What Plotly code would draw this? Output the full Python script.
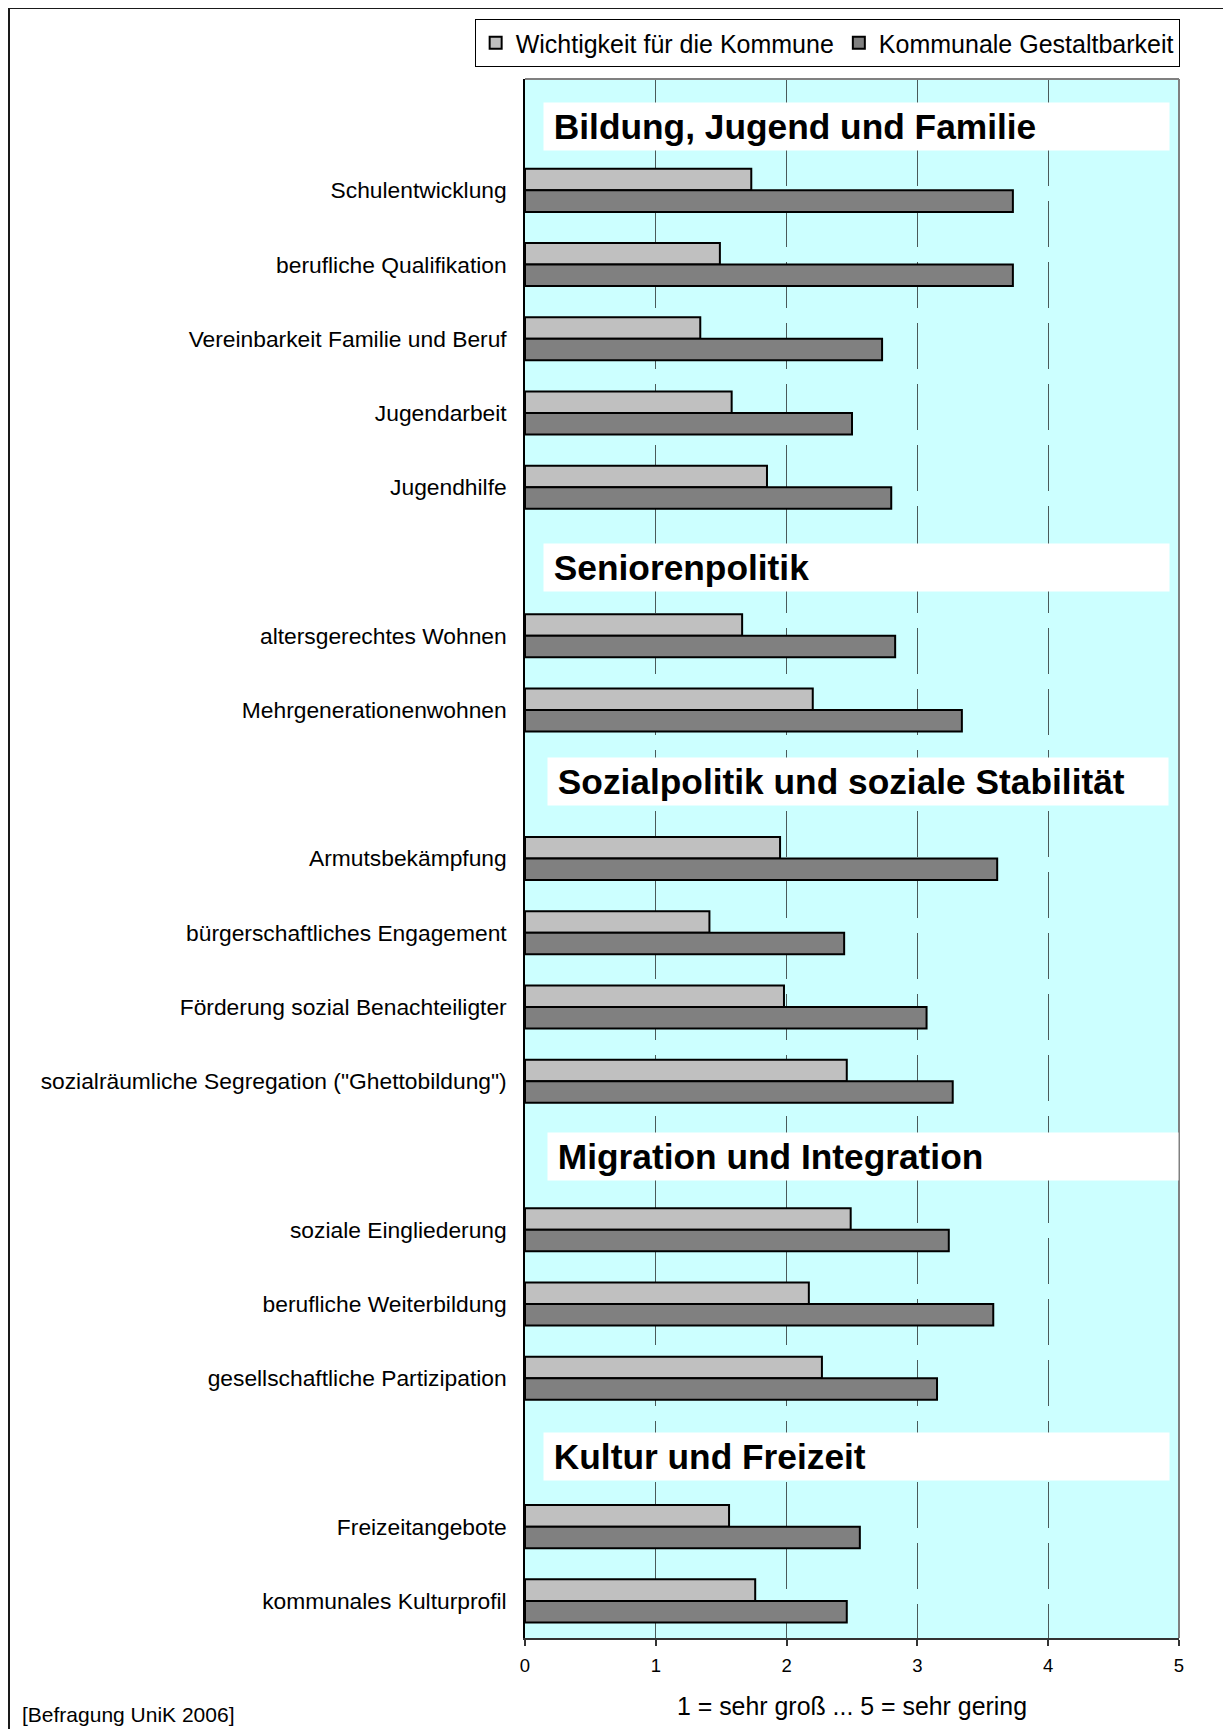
import plotly.graph_objects as go

# ---------------- data ----------------
sections = [
    "Bildung, Jugend und Familie",
    "Seniorenpolitik",
    "Sozialpolitik und soziale Stabilität",
    "Migration und Integration",
    "Kultur und Freizeit",
]
section_sizes = [5, 2, 4, 3, 2]

categories = [
    "Schulentwicklung",
    "berufliche Qualifikation",
    "Vereinbarkeit Familie und Beruf",
    "Jugendarbeit",
    "Jugendhilfe",
    "altersgerechtes Wohnen",
    "Mehrgenerationenwohnen",
    "Armutsbekämpfung",
    "bürgerschaftliches Engagement",
    "Förderung sozial Benachteiligter",
    "sozialräumliche Segregation (\"Ghettobildung\")",
    "soziale Eingliederung",
    "berufliche Weiterbildung",
    "gesellschaftliche Partizipation",
    "Freizeitangebote",
    "kommunales Kulturprofil",
]

wichtigkeit = [1.73, 1.49, 1.34, 1.58, 1.85, 1.66, 2.20, 1.95, 1.41, 1.98,
               2.46, 2.49, 2.17, 2.27, 1.56, 1.76]
gestaltbarkeit = [3.73, 3.73, 2.73, 2.50, 2.80, 2.83, 3.34, 3.61, 2.44, 3.07,
                  3.27, 3.24, 3.58, 3.15, 2.56, 2.46]

series_names = ["Wichtigkeit für die Kommune", "Kommunale Gestaltbarkeit"]
x_ticks = [0, 1, 2, 3, 4, 5]
x_title = "1 = sehr groß ... 5 = sehr gering"
source_text = "[Befragung UniK 2006]"

# ---------------- row layout (header row + item rows per section) ----------------
item_pos, header_pos = [], []
row = 0
for size in section_sizes:
    header_pos.append(row)
    row += 1
    for _ in range(size):
        item_pos.append(row)
        row += 1
n_rows = row

# ---------------- styling / geometry ----------------
OFF = 8                      # page body margin
FIG_W, FIG_H = 1231 - OFF, 1729 - OFF
PL, PT, PR, PB = 525, 79, 1179, 1638     # plot area edges in page pixels
L, T = PL - OFF, PT - OFF
R, B = FIG_W - (PR - OFF), FIG_H - (PB - OFF)
W = FIG_W - L - R
H = FIG_H - T - B
FONT = "Arial, Liberation Sans, sans-serif"


def px_x(p):
    return (p - OFF - L) / W


def px_y(p):
    return 1 - (p - OFF - T) / H


fig = go.Figure()
fig.add_trace(go.Bar(
    y=item_pos, x=wichtigkeit, orientation="h", name=series_names[0],
    marker=dict(color="#C0C0C0", line=dict(color="black", width=2)),
))
fig.add_trace(go.Bar(
    y=item_pos, x=gestaltbarkeit, orientation="h", name=series_names[1],
    marker=dict(color="#808080", line=dict(color="black", width=2)),
))

# section header boxes
hdr_x = [0.14, 0.14, 0.17, 0.17, 0.14]
hdr_w = [625, 625, 620, 630, 625]
hdr_dy = [0.14, 0.08, -0.04, 0.01, 0.06]
annotations = []
for name, pos, hx, hw, dy in zip(sections, header_pos, hdr_x, hdr_w, hdr_dy):
    annotations.append(dict(
        x=hx, y=pos + dy, xref="x", yref="y", xanchor="left", yanchor="middle",
        text="\u00a0" + name, showarrow=False, align="left", valign="middle",
        width=hw, height=47, bgcolor="white", borderpad=0,
        font=dict(family=FONT, size=35.3, color="black", weight="bold"),
    ))
annotations.append(dict(
    x=px_x(20), y=px_y(1714), xref="paper", yref="paper", xanchor="left",
    yanchor="middle", text=source_text, showarrow=False,
    font=dict(family=FONT, size=21, color="black"),
))

shapes = [
    # outer frame
    dict(type="rect", xref="paper", yref="paper", x0=px_x(9), x1=px_x(1245),
         y0=px_y(1745), y1=px_y(8), line=dict(color="#1a1a1a", width=2),
         fillcolor="rgba(0,0,0,0)", layer="above"),
    # plot area top and right border
    dict(type="line", xref="x domain", yref="y domain", x0=0, x1=1, y0=1, y1=1,
         line=dict(color="#808080", width=2), layer="above"),
    dict(type="line", xref="x domain", yref="y domain", x0=1, x1=1, y0=0, y1=1,
         line=dict(color="#808080", width=2), layer="above"),
]

fig.update_layout(
    width=FIG_W, height=FIG_H,
    margin=dict(l=L, r=R, t=T, b=B, pad=0, autoexpand=False),
    paper_bgcolor="white", plot_bgcolor="#CCFFFF",
    font=dict(family=FONT, color="black"),
    barmode="group", bargap=0.42, bargroupgap=0,
    showlegend=True,
    legend=dict(
        orientation="h", xref="paper", yref="paper",
        x=1.001, xanchor="right",
        y=px_y(19), yanchor="top",
        bgcolor="white", bordercolor="black", borderwidth=1,
        font=dict(family=FONT, size=25, color="black"),
        traceorder="normal", itemclick=False, itemdoubleclick=False,
    ),
    xaxis=dict(
        range=[0, 5], tickvals=x_ticks, ticktext=[str(v) for v in x_ticks],
        showgrid=True, gridcolor="#4a5a5a", gridwidth=1.2, griddash="46px,15px",
        zeroline=False, showline=True, linecolor="#333333", linewidth=2,
        ticks="outside", ticklen=6, tickcolor="#333333", tickwidth=1.5,
        ticklabelstandoff=4, automargin=False,
        tickfont=dict(family=FONT, size=18.5, color="black"),
        title=dict(text=x_title, font=dict(family=FONT, size=24.9, color="black"),
                   standoff=22),
    ),
    yaxis=dict(
        range=[n_rows - 0.5, -0.5], tickvals=item_pos, ticktext=categories,
        showgrid=False, zeroline=False, showline=True, linecolor="black",
        linewidth=1.5, ticks="", ticklabelstandoff=12, automargin=False,
        tickfont=dict(family=FONT, size=22.8, color="black"),
    ),
    yaxis2=dict(
        overlaying="y", side="left", range=[n_rows - 0.5, -0.5],
        tickvals=[i - 0.5 for i in range(n_rows + 1)], showticklabels=False,
        ticks="outside", ticklen=7, tickcolor="black", tickwidth=1.5,
        showgrid=False, zeroline=False, showline=False, automargin=False,
    ),
    annotations=annotations,
    shapes=shapes,
)

fig.write_html("out.html")
